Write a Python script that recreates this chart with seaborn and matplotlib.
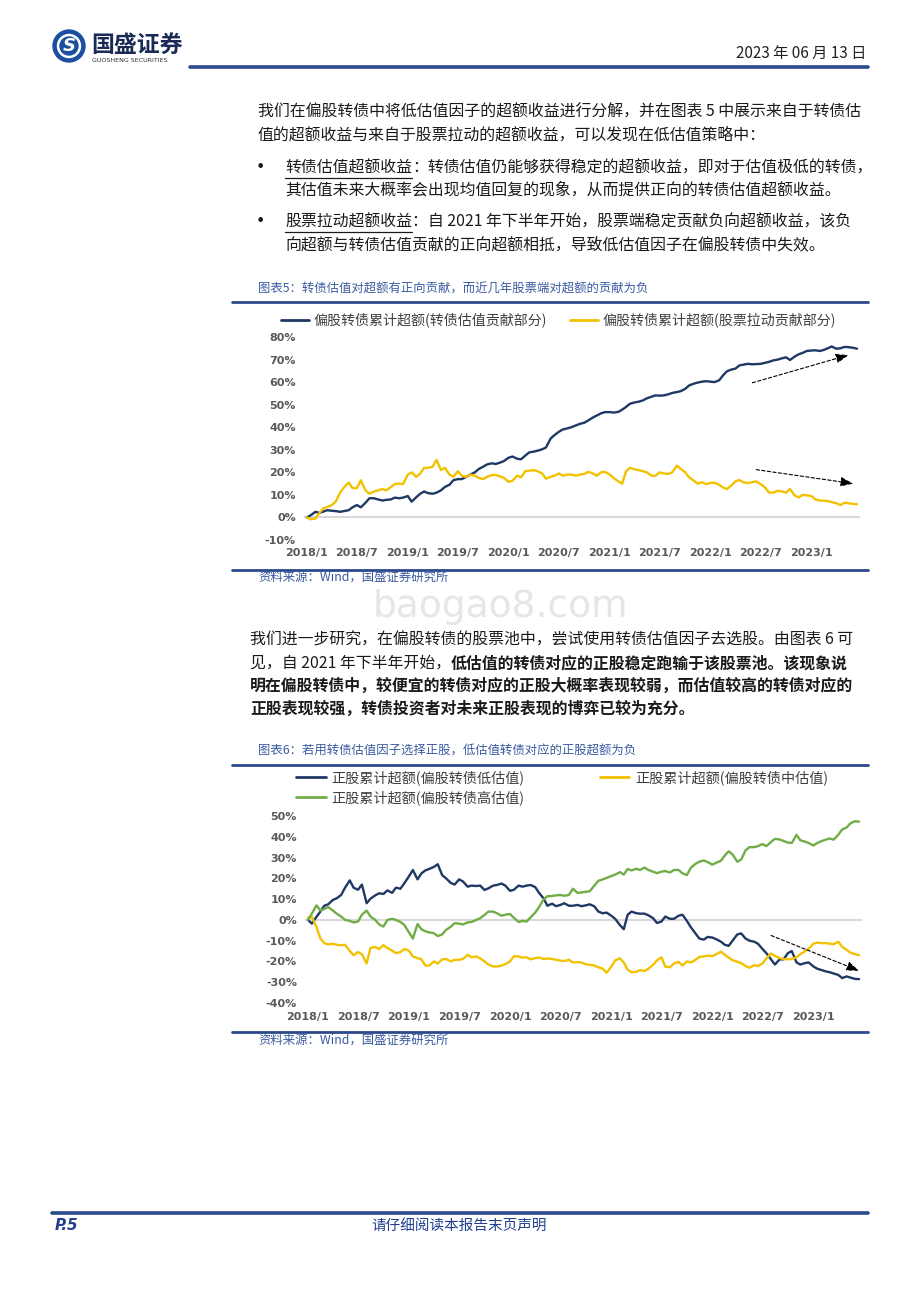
import numpy as np
import pandas as pd
import matplotlib
matplotlib.use('Agg')
import matplotlib.pyplot as plt
import matplotlib.dates as mdates
from matplotlib.lines import Line2D
from matplotlib.patches import Circle
from matplotlib.transforms import IdentityTransform
import seaborn as sns

# ---- data (semi-monthly readings, %) ----
dates = pd.date_range('2018-01-01', periods=132, freq='SMS')

tick_labels = ['2018/1', '2018/7', '2019/1', '2019/7', '2020/1', '2020/7',
               '2021/1', '2021/7', '2022/1', '2022/7', '2023/1']
tick_dates = pd.to_datetime(tick_labels, format='%Y/%m')

c5_names = ['偏股转债累计超额(转债估值贡献部分)', '偏股转债累计超额(股票拉动贡献部分)']
c5_val = [0, 1.0, 2.5, 2.0, 2.6, 3.2, 3.0, 2.8, 2.5, 2.8, 3.2, 4.5, 5.5, 4.5, 6.5,
          8.5, 8.5, 8.0, 7.5, 7.8, 8.0, 8.8, 8.5, 8.8, 9.5, 7.0, 9.0, 10.5, 11.5, 10.8,
          10.5, 11.0, 12.0, 13.5, 14.5, 16.5, 17.0, 17.0, 18.0, 19.0, 20.0, 21.5, 22.5, 23.5, 24.0,
          23.7, 24.3, 25.0, 26.5, 27.0, 26.0, 25.8, 27.4, 28.8, 29.2, 29.6, 30.2, 31.0, 35.0, 36.5,
          38.0, 39.0, 39.5, 40.0, 40.8, 41.5, 42.0, 43.0, 44.3, 45.2, 46.2, 46.7, 46.7, 46.5, 46.8,
          47.8, 49.0, 50.4, 51.0, 51.3, 51.9, 52.8, 53.5, 54.1, 54.0, 54.1, 54.6, 55.2, 55.6, 56.0,
          57.0, 58.5,
          59.3, 59.8, 60.2, 60.4, 60.2, 60.0, 60.8, 63.0, 64.8, 65.5, 66.0, 67.4, 67.8, 68.1, 67.9,
          68.0, 68.1, 68.5, 69.0, 69.6, 70.0, 70.5, 71.0, 69.8, 71.3, 72.3, 73.0, 73.8, 74.0, 74.1,
          73.8, 74.3, 75.0, 75.8, 74.8, 75.0, 75.6, 75.5, 75.2, 74.8]
c5_stk = [0, -0.8, -0.5, 2.0, 4.0, 4.6, 5.5, 7.0, 11.0, 13.3, 15.5, 13.0, 13.0, 16.5, 12.0,
          10.5, 11.5, 12.0, 12.6, 12.0, 13.5, 14.8, 15.0, 14.8, 19.0, 20.0, 18.0, 19.5, 22.0, 22.0,
          22.5, 25.5, 21.0, 22.0, 19.0, 18.0, 20.5, 18.5, 18.0, 19.0, 18.5, 17.5, 17.0, 18.0, 18.8,
          18.8, 18.2, 17.5, 15.8, 16.3, 18.5, 17.8, 20.5, 20.7, 21.0, 20.5, 19.5, 17.2, 18.0, 18.5,
          19.5, 18.5, 19.0, 19.0, 18.5, 19.0, 19.3, 20.2, 19.5, 18.5, 20.0, 20.2, 19.0, 17.5, 16.0,
          15.0, 20.5, 22.0, 21.3, 21.0, 20.5, 20.0, 18.5, 18.5, 20.0, 19.5, 19.3, 20.0, 23.0, 21.5,
          20.0, 17.8,
          16.3, 15.0, 15.6, 14.8, 15.3, 15.4, 14.5, 13.3, 12.6, 14.0, 16.0, 16.6, 15.5, 15.3, 15.6,
          16.0, 14.8, 13.5, 11.0, 11.0, 11.8, 11.5, 11.0, 12.6, 9.8, 8.9, 10.0, 9.8, 9.5, 8.0,
          7.5, 7.4, 7.3, 6.8, 6.3, 5.5, 6.5, 6.3, 6.0, 5.9]

c6_names = ['正股累计超额(偏股转债低估值)', '正股累计超额(偏股转债中估值)', '正股累计超额(偏股转债高估值)']
c6_low = [0, -1.8, 1.5, 4.0, 6.8, 7.5, 9.6, 10.4, 12.0, 15.5, 19.0, 15.5, 14.5, 17.0, 8.0,
          10.2, 11.8, 12.8, 12.5, 14.2, 13.0, 15.5, 15.0, 17.6, 21.0, 24.0, 19.5, 22.4, 23.8, 24.5,
          25.5, 26.8, 21.5, 20.0, 17.8, 17.0, 19.5, 18.5, 16.0, 16.5, 16.3, 16.5, 14.4, 15.2, 16.5,
          16.8, 17.5, 16.5, 14.0, 14.5, 16.5, 16.0, 16.5, 16.8, 15.8, 13.0, 10.4, 6.8, 7.8, 6.6,
          7.2, 8.0, 6.8, 6.8, 7.2, 6.6, 7.0, 7.5, 6.5, 4.0, 3.2, 3.5, 2.0, 0.5, -2.5,
          -4.5, 2.5, 4.0, 3.2, 3.0, 3.0, 2.2, 0.8, -1.5, -0.8, 1.6, 0.5, 0.5, 2.0, 2.5, -0.5,
          -3.5, -6.5, -9.0, -9.5, -8.2, -8.5, -9.3, -10.5, -12.0, -12.5, -10.0, -7.0, -6.5, -9.0, -10.0,
          -10.5, -11.5, -14.0, -16.0, -19.0, -21.5, -19.0, -19.0, -16.0, -15.0, -20.5, -21.5, -20.8, -20.5, -22.4,
          -23.5, -24.2, -24.8, -25.2, -25.8, -26.5, -28.0, -27.2, -27.8, -28.4, -28.5]
c6_mid = [1.0, 1.5, -3.5, -9.0, -11.2, -11.8, -11.5, -12.0, -12.2, -12.0, -15.0, -17.0, -15.5, -16.5, -21.0,
          -13.5, -13.0, -14.0, -12.2, -13.5, -14.8, -16.0, -15.5, -14.0, -14.8, -17.6, -18.4, -19.0, -22.0, -22.0,
          -20.0, -21.0, -19.0, -18.8, -20.0, -19.2, -19.2, -18.8, -16.8, -18.0, -17.6, -18.5, -20.0, -21.5, -22.4,
          -22.4, -22.0, -21.3, -20.0, -17.5, -17.6, -18.2, -18.0, -19.0, -18.4, -18.1, -18.8, -18.6, -18.8, -19.2,
          -19.6, -19.8, -19.2, -20.5, -20.3, -20.5, -21.4, -21.6, -22.0, -22.8, -23.5, -25.4, -22.5, -19.5, -18.5,
          -20.5, -24.0, -25.2, -25.0, -24.2, -24.6, -23.5, -21.6, -19.5, -18.0, -22.5, -22.8, -21.0, -20.2, -22.0, -20.0,
          -20.5, -19.2, -17.8, -17.6, -17.2, -17.4, -16.5, -15.3, -16.8, -18.2, -19.4, -20.2, -20.8, -22.2, -23.0,
          -21.8, -22.2, -21.0, -18.5, -16.2, -17.3, -18.4, -18.8, -19.0, -18.8, -18.0, -16.5, -15.2, -14.0, -11.5,
          -10.9, -11.2, -11.2, -11.4, -11.7, -10.5, -13.0, -14.4, -15.8, -16.5, -17.0]
c6_high = [0, 3.0, 7.0, 4.5, 5.2, 6.2, 4.5, 3.0, 1.6, 0.0, -0.5, -1.2, -0.8, 2.5, 4.5,
           1.6, 0.0, -2.2, -3.2, 0.0, 0.5, 0.0, -1.0, -2.4, -6.0, -9.0, -2.0, -4.5, -5.5, -6.0,
           -6.4, -7.8, -7.0, -4.8, -3.3, -1.6, -1.8, -2.2, -1.2, -1.0, 0.0, 0.8, 2.4, 4.0, 4.0,
           3.2, 2.0, 2.5, 2.8, 1.0, -1.0, -0.5, -0.8, 1.2, 3.5, 6.2, 9.8, 11.4, 11.5, 11.8,
           12.0, 11.6, 12.0, 15.0, 13.0, 13.2, 13.5, 13.8, 16.5, 18.8, 19.5, 20.2, 21.0, 21.8, 23.0,
           21.8, 24.5, 23.8, 24.6, 24.0, 25.2, 24.0, 23.2, 22.5, 23.2, 23.5, 22.8, 24.0, 24.0, 22.4, 21.6,
           25.0, 27.0, 28.0, 28.6, 27.8, 26.6, 27.5, 28.5, 31.0, 33.0, 31.5, 28.0, 29.0, 33.5, 35.0,
           35.0, 35.5, 36.5, 35.5, 37.5, 39.0, 38.7, 38.0, 37.2, 37.0, 40.9, 38.3, 37.7, 37.0, 35.8,
           37.0, 38.0, 38.6, 39.2, 38.6, 41.0, 43.5, 44.5, 46.5, 47.5, 47.3]

c5_yticks = list(range(-10, 81, 10))
c6_yticks = list(range(-40, 51, 10))

# trend arrows: (start index, start %, end index, end %)
c5_arrows = [(106, 59.7, 129, 72.0), (107, 21.2, 130, 15.0)]
c6_arrow = (110, -7.5, 131, -24.5)

# ---- style ----
NAVY = '#1F3864'
GOLD = '#F2C200'
GREEN = '#70AD47'
RULE = '#2B4A8B'
CAP = '#3A5BA0'
TXT = '#1A1A1A'
TICK = '#595959'
ZERO = '#D9D9D9'
BODY = 11.45

sns.set_style('white')
plt.rcParams['font.family'] = ['Noto Sans CJK SC', 'DejaVu Sans']

W, H = 920, 1302
fig = plt.figure(figsize=(W / 100, H / 100), dpi=100)
renderer = fig.canvas.get_renderer()


def fx(x):
    return x / W


def fy(y):
    return 1 - y / H


def hline(x0, x1, y, lw=2, color=RULE):
    fig.add_artist(Line2D([fx(x0), fx(x1)], [fy(y), fy(y)], transform=fig.transFigure,
                          color=color, lw=lw))


def put(x, y, s, size=BODY, weight='normal', color=TXT, **kw):
    return fig.text(fx(x), fy(y), s, fontsize=size, fontweight=weight, color=color,
                    va='center', ha='left', **kw)


def put_parts(x, y, parts, size=BODY):
    # write segments one after another on one line
    out = []
    for s, w, ul in parts:
        t = put(x, y, s, size=size, weight=w)
        bb = t.get_window_extent(renderer)
        if ul:
            hline(x, x + bb.width, y + 10, lw=0.9, color=TXT)
        x += bb.width
        out.append(t)
    return out


# ---- header ----
fig.add_artist(Circle((69, H - 46), 16, transform=IdentityTransform(), color='#1C4FA0'))
fig.add_artist(Circle((69, H - 46), 11.5, transform=IdentityTransform(), color='white'))
fig.add_artist(Circle((69, H - 46), 9, transform=IdentityTransform(), color='#1C4FA0'))
fig.text(fx(69), fy(46), 'S', fontsize=13, fontweight='bold', color='white',
         ha='center', va='center', family='DejaVu Sans', style='italic')
put(91, 45, '国盛证券', size=16.5, weight='bold', color='#1B2A55')
put(92, 60, 'GUOSHENG SECURITIES', size=4.6, color='#333333', family='DejaVu Sans')
fig.text(fx(866), fy(53), '2023 年 06 月 13 日', fontsize=11, color='#222222',
         ha='right', va='center')
hline(190, 868, 67, lw=2.6)

# ---- paragraph 1 ----
put(258, 112, '我们在偏股转债中将低估值因子的超额收益进行分解，并在图表 5 中展示来自于转债估')
put(258, 135, '值的超额收益与来自于股票拉动的超额收益，可以发现在低估值策略中：')
put(256, 168, '•', family='DejaVu Sans')
put_parts(285, 168, [('转债估值超额收益', 'normal', True),
                     ('：转债估值仍能够获得稳定的超额收益，即对于估值极低的转债，', 'normal', False)])
put(285, 190, '其估值未来大概率会出现均值回复的现象，从而提供正向的转债估值超额收益。')
put(256, 222, '•', family='DejaVu Sans')
put_parts(285, 222, [('股票拉动超额收益', 'normal', True),
                     ('：自 2021 年下半年开始，股票端稳定贡献负向超额收益，该负', 'normal', False)])
put(285, 245, '向超额与转债估值贡献的正向超额相抵，导致低估值因子在偏股转债中失效。')

# ---- watermark (kept in the gap above paragraph 2) ----
fig.text(fx(500), fy(607), 'baogao8.com', fontsize=27, color='#E6E6E6', ha='center',
         va='center', family='DejaVu Sans', zorder=0)

# ---- paragraph 2 ----
put(250, 640, '我们进一步研究，在偏股转债的股票池中，尝试使用转债估值因子去选股。由图表 6 可')
put_parts(250, 663, [('见，自 2021 年下半年开始，', 'normal', False),
                     ('低估值的转债对应的正股稳定跑输于该股票池。该现象说', 'bold', False)])
put(250, 686, '明在偏股转债中，较便宜的转债对应的正股大概率表现较弱，而估值较高的转债对应的', weight='bold')
put(250, 709, '正股表现较强，转债投资者对未来正股表现的博弈已较为充分。', weight='bold')


def style_axis(ax, yticks, ylim, xlim, label_off):
    ax.set_xlim(xlim)
    ax.set_ylim(ylim)
    ax.set_xlabel('')
    ax.set_ylabel('')
    for s in ['top', 'right', 'left']:
        ax.spines[s].set_visible(False)
    ax.spines['bottom'].set_position(('data', 0))
    ax.spines['bottom'].set_color(ZERO)
    ax.spines['bottom'].set_linewidth(1.5)
    ax.spines['bottom'].set_zorder(0)
    ax.set_xticks(tick_dates)
    ax.tick_params(axis='x', length=4, width=1, color=ZERO, direction='out', labelbottom=False)
    ax.set_yticks(yticks)
    ax.set_yticklabels([f'{v}%' for v in yticks], fontfamily='DejaVu Sans',
                       fontweight='bold', fontsize=8, color=TICK)
    ax.tick_params(axis='y', length=0, pad=6.5)
    ax.patch.set_alpha(0)
    for d, lab in zip(tick_dates, tick_labels):
        ax.annotate(lab, xy=(mdates.date2num(d), 0), xycoords=ax.get_xaxis_transform(),
                    xytext=(0, label_off), textcoords='offset points', ha='center', va='center',
                    fontfamily='DejaVu Sans', fontweight='bold', fontsize=8, color=TICK,
                    annotation_clip=False)


def arrow(ax, a):
    i0, v0, i1, v1 = a
    x0 = mdates.date2num(dates[i0])
    x1 = mdates.date2num(dates[min(i1, len(dates) - 1)] + pd.Timedelta(days=15 * max(0, i1 - len(dates) + 1)))
    ax.annotate('', xy=(x1, v1), xytext=(x0, v0),
                arrowprops=dict(arrowstyle='-|>,head_length=0.75,head_width=0.28', color='black',
                                lw=0.8, linestyle=(0, (3, 2)), shrinkA=0, shrinkB=0))


pad = pd.Timedelta(days=7)
xlim = (dates[0] - pad, dates[-1] + pad)

# ---- chart 5 ----
put(258, 289, '图表5：转债估值对超额有正向贡献，而近几年股票端对超额的贡献为负', size=8.9, color=CAP)
hline(232, 868, 302)
ax1 = fig.add_axes([fx(305), fy(540), (859 - 305) / W, (540 - 337) / H])
df5 = pd.DataFrame({'date': dates, c5_names[0]: c5_val, c5_names[1]: c5_stk})
df5 = df5.melt(id_vars='date', var_name='series', value_name='value')
sns.lineplot(data=df5, x='date', y='value', hue='series', hue_order=c5_names,
             palette=[NAVY, GOLD], linewidth=1.7, legend=False, ax=ax1)
style_axis(ax1, c5_yticks, (-10, 80), xlim, -9.5)
for a in c5_arrows:
    arrow(ax1, a)
h5 = [Line2D([], [], color=NAVY, lw=2), Line2D([], [], color=GOLD, lw=2)]
fig.legend(h5, c5_names, loc='center left', bbox_to_anchor=(fx(281), fy(320)), ncol=2,
           frameon=False, fontsize=10.1, handlelength=2.0, handletextpad=0.35,
           columnspacing=1.6, borderpad=0, borderaxespad=0, labelcolor='#404040')
hline(232, 868, 570)
put(258, 577, '资料来源：Wind，国盛证券研究所', size=8.9, color=CAP)

# ---- chart 6 ----
put(258, 751, '图表6：若用转债估值因子选择正股，低估值转债对应的正股超额为负', size=8.9, color=CAP)
hline(232, 868, 765)
ax2 = fig.add_axes([fx(306), fy(1003), (861 - 306) / W, (1003 - 816) / H])
df6 = pd.DataFrame({'date': dates, c6_names[0]: c6_low, c6_names[1]: c6_mid, c6_names[2]: c6_high})
df6 = df6.melt(id_vars='date', var_name='series', value_name='value')
sns.lineplot(data=df6, x='date', y='value', hue='series', hue_order=c6_names,
             palette=[NAVY, GOLD, GREEN], linewidth=1.7, legend=False, ax=ax2)
style_axis(ax2, c6_yticks, (-40, 50), xlim, -10)
arrow(ax2, c6_arrow)
h6 = [Line2D([], [], color=NAVY, lw=2), Line2D([], [], color=GREEN, lw=2),
      Line2D([], [], color=GOLD, lw=2)]
fig.legend(h6, [c6_names[0], c6_names[2], c6_names[1]], loc='upper left',
           bbox_to_anchor=(fx(296), fy(770)), ncol=2, frameon=False, fontsize=10.2,
           handlelength=2.1, handletextpad=0.4, columnspacing=5.3, labelspacing=0.38,
           borderpad=0, borderaxespad=0, labelcolor='#404040')
hline(232, 868, 1032)
put(258, 1040, '资料来源：Wind，国盛证券研究所', size=8.9, color=CAP)

# ---- footer ----
hline(52, 868, 1213, lw=2.6)
fig.text(fx(55), fy(1226), 'P.5', fontsize=11, fontweight='bold', style='italic',
         color='#1F3F8F', family='DejaVu Sans', va='center', ha='left')
fig.text(fx(459), fy(1226), '请仔细阅读本报告末页声明', fontsize=10.5, color='#1F3F8F',
         va='center', ha='center')

fig.savefig('out.png', dpi=100)
